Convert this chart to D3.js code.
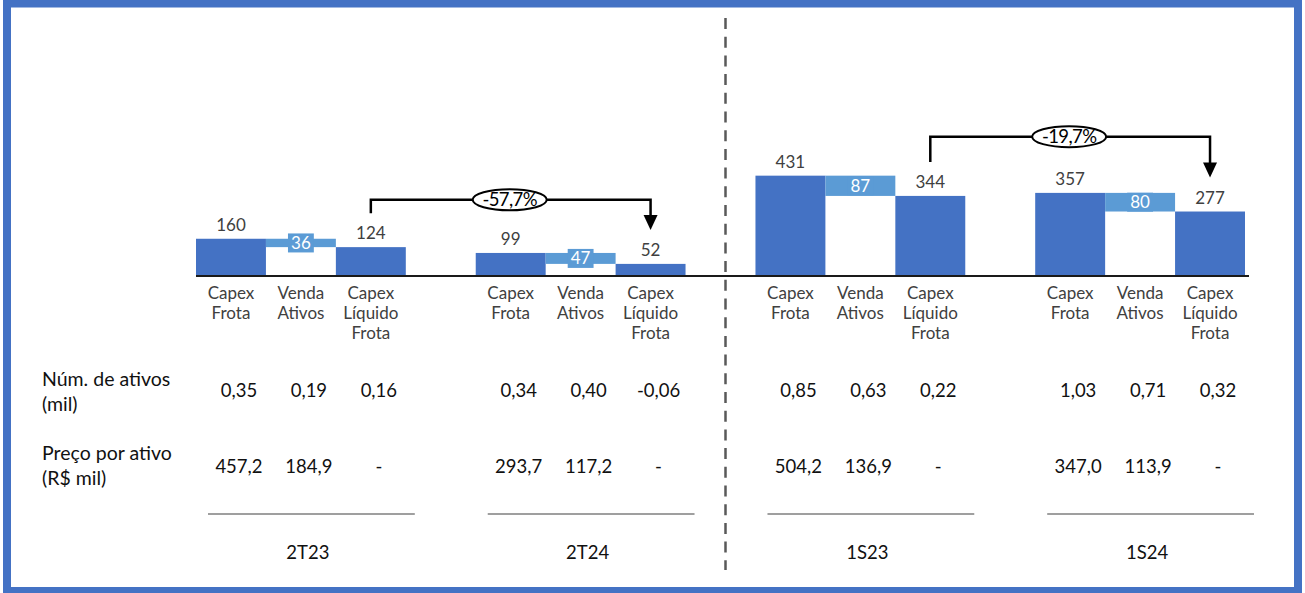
<!DOCTYPE html>
<html><head><meta charset="utf-8">
<script src="https://cdn.jsdelivr.net/npm/d3@7"></script>
<style>html,body{margin:0;padding:0;background:#fff;} svg{display:block}</style>
</head><body>
<svg id="c" width="1305" height="593"></svg>
<script>
// ---------- data ----------
const groups = ["2T23", "2T24", "1S23", "1S24"];
const categories = ["Capex Frota", "Venda Ativos", "Capex Líquido Frota"];
const categoryLines = [["Capex", "Frota"], ["Venda", "Ativos"], ["Capex", "Líquido", "Frota"]];
const capexFrota = [160, 99, 431, 357];
const vendaAtivos = [36, 47, 87, 80];
const capexLiquido = [124, 52, 344, 277];
const numCapex = [0.35, 0.34, 0.85, 1.03];
const numVenda = [0.19, 0.40, 0.63, 0.71];
const numLiquido = [0.16, -0.06, 0.22, 0.32];
const precoCapex = [457.2, 293.7, 504.2, 347.0];
const precoVenda = [184.9, 117.2, 136.9, 113.9];
const rowLabels = [["Núm. de ativos", "(mil)"], ["Preço por ativo", "(R$ mil)"]];
const varFrom = [0, 2];
const varTo = [1, 3];
const varLabels = ["-57,7%", "-19,7%"];

// ---------- style ----------
const DARK = "#4472C4", LIGHT = "#5B9BD5", TXT = "#404040";
const chartFont = "Lato, 'Noto Sans', sans-serif";
const tableFont = "Lato, 'Noto Sans', sans-serif";

const svg = d3.select("#c");

// border
svg.append("rect").attr("x", 7).attr("y", 3.5).attr("width", 1291).attr("height", 587.5)
  .attr("fill", "none").attr("stroke", DARK).attr("stroke-width", 8);

const x0 = d3.scaleBand().domain(groups).range([196, 1245]).paddingInner(0.25).paddingOuter(0);
const x1 = d3.scaleBand().domain(categories).range([0, x0.bandwidth()]);
const y = d3.scaleLinear().domain([0, 500]).range([276, 159.6]);
const fmt = (v, d) => v.toFixed(d).replace(".", ",");
const cx = (i, c) => x0(groups[i]) + x1(categories[c]) + x1.bandwidth() / 2;

// dashed separator
const sepX = (x0(groups[1]) + x0.bandwidth() + x0(groups[2])) / 2 + 5;
svg.append("line").attr("x1", sepX).attr("x2", sepX).attr("y1", 18).attr("y2", 570)
  .attr("stroke", "#595959").attr("stroke-width", 2.5).attr("stroke-dasharray", "11,7.7");

const g = svg.selectAll("g.grp").data(groups).join("g").attr("class", "grp")
  .attr("transform", d => `translate(${x0(d)},0)`);

g.each(function (d, i) {
  const s = d3.select(this);
  const bw = x1.bandwidth();
  // capex frota
  s.append("rect").attr("x", x1(categories[0])).attr("width", bw)
    .attr("y", y(capexFrota[i])).attr("height", y(0) - y(capexFrota[i])).attr("fill", DARK);
  // venda (floating)
  const top = capexFrota[i], bot = capexFrota[i] - vendaAtivos[i];
  s.append("rect").attr("x", x1(categories[1])).attr("width", bw)
    .attr("y", y(top)).attr("height", y(bot) - y(top)).attr("fill", LIGHT);
  // liquido
  s.append("rect").attr("x", x1(categories[2])).attr("width", bw)
    .attr("y", y(capexLiquido[i])).attr("height", y(0) - y(capexLiquido[i])).attr("fill", DARK);

  // value labels
  [[0, capexFrota[i]], [2, capexLiquido[i]]].forEach(([c, v]) => {
    s.append("text").attr("x", x1(categories[c]) + bw / 2).attr("y", y(v) - 8)
      .attr("text-anchor", "middle").attr("font-family", chartFont).attr("font-size", 17)
      .attr("fill", TXT).text(v);
  });
  // venda label with box
  const vc = (y(top) + y(bot)) / 2;
  const vx = x1(categories[1]) + bw / 2;
  const t = s.append("text").attr("x", vx).attr("y", vc + 6)
    .attr("text-anchor", "middle").attr("font-family", chartFont).attr("font-size", 17)
    .attr("fill", "#ffffff").text(vendaAtivos[i]);
  const bb = t.node().getBBox();
  s.insert("rect", "text").attr("x", vx - bb.width / 2 - 3).attr("width", bb.width + 6)
    .attr("y", vc - 9.5).attr("height", 19).attr("fill", LIGHT);

  // category labels
  categoryLines.forEach((lines, c) => {
    const tx = s.append("text").attr("x", x1(categories[c]) + bw / 2).attr("y", 299)
      .attr("text-anchor", "middle").attr("font-family", chartFont).attr("font-size", 17)
      .attr("fill", TXT);
    lines.forEach((ln, k) => tx.append("tspan").attr("x", x1(categories[c]) + bw / 2)
      .attr("dy", k === 0 ? 0 : 20).text(ln));
  });

  // table values
  const off = 8;
  const nums = [fmt(numCapex[i], 2), fmt(numVenda[i], 2), fmt(numLiquido[i], 2)];
  const precos = [fmt(precoCapex[i], 1), fmt(precoVenda[i], 1), "-"];
  nums.forEach((v, c) => s.append("text").attr("x", x1(categories[c]) + bw / 2 + off).attr("y", 397)
    .attr("text-anchor", "middle").attr("font-family", tableFont).attr("font-size", 18.5)
    .attr("fill", "#111").text(v));
  precos.forEach((v, c) => s.append("text").attr("x", x1(categories[c]) + bw / 2 + off).attr("y", 473)
    .attr("text-anchor", "middle").attr("font-family", tableFont).attr("font-size", 18.5)
    .attr("fill", "#111").text(v));

  // separator line & group label
  s.append("line").attr("x1", 12).attr("x2", x0.bandwidth() + 9).attr("y1", 514).attr("y2", 514)
    .attr("stroke", "#404040").attr("stroke-width", 1.2);
  s.append("text").attr("x", x0.bandwidth() / 2 + 7).attr("y", 559).attr("text-anchor", "middle")
    .attr("font-family", tableFont).attr("font-size", 18.5).attr("fill", "#111").text(d);
});

// baseline
svg.append("line").attr("x1", x0.range()[0]).attr("x2", x0.range()[1] + 4).attr("y1", y(0)).attr("y2", y(0))
  .attr("stroke", "#1a1a1a").attr("stroke-width", 2);

// row labels
rowLabels.forEach((lines, r) => {
  const yy = [386, 460][r];
  const t = svg.append("text").attr("x", 42).attr("y", yy).attr("font-family", tableFont)
    .attr("font-size", 19.5).attr("fill", "#111");
  lines.forEach((ln, k) => t.append("tspan").attr("x", 42).attr("dy", k === 0 ? 0 : 25).text(ln));
});

// variation brackets
varFrom.forEach((fi, k) => {
  const ti = varTo[k];
  const xa = cx(fi, 2), xb = cx(ti, 2);
  const ya = y(capexLiquido[fi]) - 34;
  const yt = y(capexLiquido[ti]) - 34;
  const yh = y(Math.max(capexFrota[fi], capexFrota[ti])) - 39;
  svg.append("path").attr("d", `M${xa},${ya}V${yh}H${xb}V${yt - 13}`)
    .attr("fill", "none").attr("stroke", "#000").attr("stroke-width", 2.5);
  svg.append("path").attr("d", `M${xb - 7},${yt - 15}L${xb + 7},${yt - 15}L${xb},${yt}Z`).attr("fill", "#000");
  const mx = (xa + xb) / 2 - 1;
  svg.append("ellipse").attr("cx", mx).attr("cy", yh).attr("rx", 37).attr("ry", 10.5)
    .attr("fill", "#fff").attr("stroke", "#000").attr("stroke-width", 2);
  svg.append("text").attr("x", mx).attr("y", yh + 6.5).attr("text-anchor", "middle")
    .attr("font-family", chartFont).attr("font-size", 18.5).attr("letter-spacing", -0.6)
    .attr("fill", "#000").text(varLabels[k]);
});
</script>
</body></html>
